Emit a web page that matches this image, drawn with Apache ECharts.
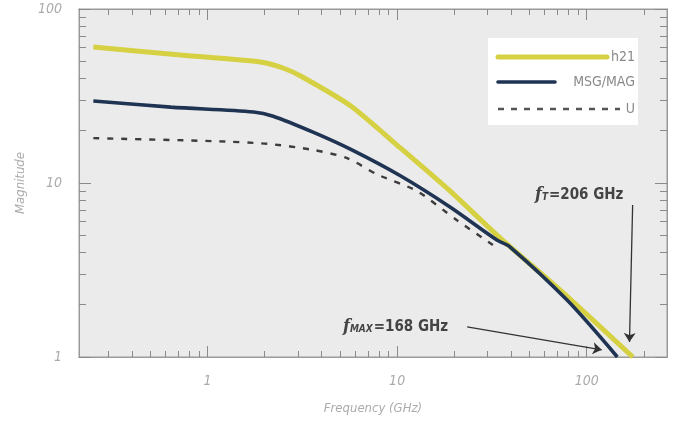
<!DOCTYPE html>
<html>
<head>
<meta charset="utf-8">
<script src="https://cdn.jsdelivr.net/npm/echarts@6/dist/echarts.min.js"></script>
<style>
  html, body { margin: 0; padding: 0; background: #fff; }
  #chart-container { width: 673px; height: 423px; }
</style>
</head>
<body>
<div id="chart-container"></div>
<script>
var dom = document.getElementById('chart-container');
var myChart = echarts.init(dom, null, { renderer: 'canvas' });

// frequency in GHz, magnitude (linear)
const h21Freq = [0.25, 0.72, 1.9, 2.5, 3.1, 5.7, 10.4, 19, 33.6, 78.5, 175];
const h21Mag  = [60.5, 54.4, 49.6, 45.8, 41.2, 27.7, 15.9, 9.0, 5.02, 2.24, 1.0];

const msgFreq = [0.25, 0.64, 1.75, 2.22, 3.6, 5.7, 10.4, 19, 33.6, 39.3, 78.5, 145];
const msgMag  = [29.6, 27.3, 25.6, 24.2, 19.6, 15.6, 11.0, 7.28, 4.7, 4.3, 2.13, 1.0];

const uFreq = [0.25, 1.07, 2.07, 3.6, 5.45, 7.85, 12.7, 20.7, 32];
const uMag  = [18.1, 17.4, 16.8, 15.5, 13.9, 11.2, 9.0, 6.1, 4.4];

// axis ticks
const xMajor = [1, 10, 100];
const xMinor = [0.3, 0.4, 0.5, 0.6, 0.7, 0.8, 0.9, 2, 3, 4, 5, 6, 7, 8, 9,
  20, 30, 40, 50, 60, 70, 80, 90, 200];
const yMajor = [1, 10, 100];
const yMinor = [2, 3, 4, 5, 6, 7, 8, 9, 20, 30, 40, 50, 60, 70, 80, 90];

// annotation arrows [startFreq, startMag, endFreq, endMag]
const fTArrow = [174.6, 7.47, 168, 1.22];
const fMaxArrow = [23.4, 1.49, 120, 1.1];

function pairs(xs, ys) {
  return xs.map(function (x, i) { return [x, ys[i]]; });
}

const labelFont = "'DejaVu Sans Condensed', 'Liberation Sans Narrow', sans-serif";
const X_MIN = 0.21, X_MAX = 265;

function xAxisDef(pos, ticks, len, labels) {
  return {
    type: 'log', logBase: 10, gridIndex: 0, position: pos,
    min: X_MIN, max: X_MAX,
    axisLine: { show: true, lineStyle: { color: '#9a9a9a', width: 1 } },
    axisTick: { show: true, inside: true, length: len, customValues: ticks,
      lineStyle: { color: '#8a8a8a', width: 1 } },
    splitLine: { show: false },
    minorTick: { show: false },
    axisLabel: labels ? {
      show: true, customValues: xMajor, margin: 17,
      color: '#ababab', fontSize: 14, fontStyle: 'italic', fontFamily: labelFont
    } : { show: false }
  };
}
function yAxisDef(pos, ticks, len, labels) {
  return {
    type: 'log', logBase: 10, gridIndex: 0, position: pos,
    min: 1, max: 100,
    axisLine: { show: true, lineStyle: { color: '#9a9a9a', width: 1 } },
    axisTick: { show: true, inside: true, length: len, customValues: ticks,
      lineStyle: { color: '#8a8a8a', width: 1 } },
    splitLine: { show: false },
    minorTick: { show: false },
    axisLabel: labels ? {
      show: true, customValues: yMajor, margin: 17,
      color: '#ababab', fontSize: 14, fontStyle: 'italic', fontFamily: labelFont
    } : { show: false }
  };
}

var xMain = xAxisDef('bottom', xMajor, 11, true);
xMain.name = 'Frequency (GHz)';
xMain.nameLocation = 'middle';
xMain.nameGap = 45;
xMain.nameTextStyle = { color: '#ababab', fontSize: 13, fontStyle: 'italic', fontFamily: labelFont };

var yMain = yAxisDef('left', yMajor, 12, true);
yMain.name = 'Magnitude';
yMain.nameLocation = 'middle';
yMain.nameGap = 52;
yMain.nameRotate = 90;
yMain.nameTextStyle = { color: '#ababab', fontSize: 13, fontStyle: 'italic', fontFamily: labelFont };

var arrowStyle = { color: '#333', width: 1.3, type: 'solid' };

var annRich = {
  f: { fontSize: 16, fontStyle: 'italic', fontWeight: 'bold', fontFamily: 'DejaVu Serif', fill: '#444' },
  s: { fontSize: 10, fontStyle: 'italic', fontWeight: 'bold', fontFamily: labelFont, fill: '#444', padding: [4, 1, 0, 0] },
  n: { fontSize: 15, fontWeight: 'bold', fontFamily: labelFont, fill: '#444' }
};

var option = {
  animation: false,
  backgroundColor: '#ffffff',
  grid: {
    left: 79, right: 6, top: 9, bottom: 66,
    show: true, backgroundColor: '#ebebeb', borderColor: '#9a9a9a', borderWidth: 1
  },
  xAxis: [
    xMain,
    xAxisDef('bottom', xMinor, 6, false),
    xAxisDef('top', xMajor, 11, false),
    xAxisDef('top', xMinor, 6, false)
  ],
  yAxis: [
    yMain,
    yAxisDef('left', yMinor, 7, false),
    yAxisDef('right', yMajor, 12, false),
    yAxisDef('right', yMinor, 7, false)
  ],
  series: [
    {
      name: 'U', type: 'line', xAxisIndex: 0, yAxisIndex: 0,
      data: pairs(uFreq, uMag), showSymbol: false, smooth: 0.25,
      lineStyle: { color: '#3c3c3c', width: 2.4, type: [6, 8] },
      z: 3
    },
    {
      name: 'MSG/MAG', type: 'line', xAxisIndex: 0, yAxisIndex: 0,
      data: pairs(msgFreq, msgMag), showSymbol: false, smooth: 0.3,
      lineStyle: { color: '#1f3353', width: 3.6 },
      z: 4
    },
    {
      name: 'h21', type: 'line', xAxisIndex: 0, yAxisIndex: 0,
      data: pairs(h21Freq, h21Mag), showSymbol: false, smooth: 0.2,
      lineStyle: { color: '#d5d143', width: 5 },
      z: 3,
      markLine: {
        silent: true,
        symbol: ['none', 'arrow'],
        symbolSize: 9,
        label: { show: false },
        lineStyle: arrowStyle,
        data: [
          [{ coord: [fTArrow[0], fTArrow[1]] }, { coord: [fTArrow[2], fTArrow[3]] }],
          [{ coord: [fMaxArrow[0], fMaxArrow[1]] }, { coord: [fMaxArrow[2], fMaxArrow[3]] }]
        ]
      }
    }
  ],
  graphic: [
    // legend box
    { type: 'rect', left: 488, top: 38, shape: { width: 150, height: 87 },
      style: { fill: '#ffffff' }, z: 10 },
    { type: 'line', shape: { x1: 498, y1: 57, x2: 607, y2: 57 },
      style: { stroke: '#d5d143', lineWidth: 5, lineCap: 'round' }, z: 11 },
    { type: 'text', x: 635, y: 57, style: { text: 'h21', align: 'right', verticalAlign: 'middle',
      fill: '#8a8a8a', font: "14px 'DejaVu Sans Condensed', sans-serif" }, z: 11 },
    { type: 'line', shape: { x1: 498, y1: 82, x2: 555, y2: 82 },
      style: { stroke: '#1f3353', lineWidth: 3.6, lineCap: 'round' }, z: 11 },
    { type: 'text', x: 635, y: 82, style: { text: 'MSG/MAG', align: 'right', verticalAlign: 'middle',
      fill: '#8a8a8a', font: "14px 'DejaVu Sans Condensed', sans-serif" }, z: 11 },
    { type: 'line', shape: { x1: 498, y1: 109, x2: 620, y2: 109 },
      style: { stroke: '#555', lineWidth: 2.4, lineDash: [6, 7] }, z: 11 },
    { type: 'text', x: 635, y: 109, style: { text: 'U', align: 'right', verticalAlign: 'middle',
      fill: '#8a8a8a', font: "14px 'DejaVu Sans Condensed', sans-serif" }, z: 11 },
    // annotations
    { type: 'text', x: 535, y: 195, z: 11,
      style: { text: '{f|f}{s|T}{n|=206 GHz}', verticalAlign: 'middle', fill: '#444', rich: annRich } },
    { type: 'text', x: 343, y: 327, z: 11,
      style: { text: '{f|f}{s|MAX}{n|=168 GHz}', verticalAlign: 'middle', fill: '#444', rich: annRich } }
  ]
};

if (option && typeof option === 'object') {
  myChart.setOption(option);
}

window.addEventListener('resize', myChart.resize);
</script>
</body>
</html>
